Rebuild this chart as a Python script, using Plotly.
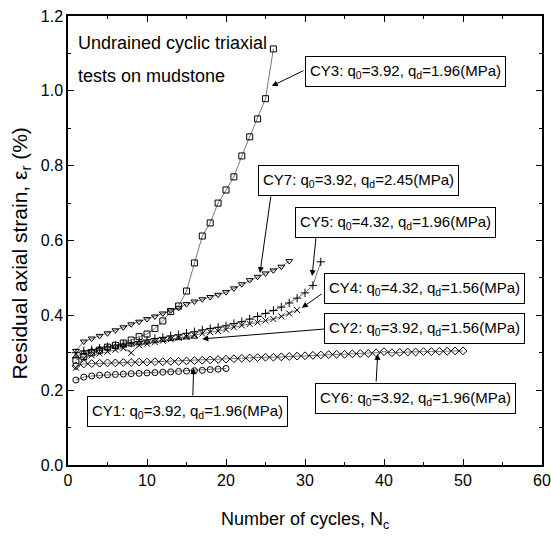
import plotly.graph_objects as go

FONT = "Liberation Sans, Arial, sans-serif"

# ---- data ----
cy1_eps = [0.227, 0.235, 0.238, 0.240, 0.241, 0.242, 0.243, 0.244, 0.245, 0.246,
           0.247, 0.248, 0.249, 0.250, 0.251, 0.252, 0.253, 0.255, 0.256, 0.258]
cy2_eps = [0.290, 0.300, 0.305, 0.310, 0.313, 0.316, 0.319, 0.322, 0.325, 0.328,
           0.331, 0.334, 0.337, 0.339, 0.341, 0.343]
cy3_eps = [0.280, 0.290, 0.300, 0.307, 0.315, 0.320, 0.326, 0.334, 0.343, 0.350,
           0.365, 0.385, 0.410, 0.425, 0.465, 0.540, 0.612, 0.647, 0.700, 0.735,
           0.770, 0.826, 0.877, 0.925, 0.979, 1.112]
cy4_eps = [0.260, 0.285, 0.293, 0.298, 0.303, 0.308, 0.312, 0.300, 0.320, 0.324,
           0.328, 0.332, 0.336, 0.340, 0.343, 0.347, 0.351, 0.355, 0.358, 0.362,
           0.368, 0.373, 0.377, 0.381, 0.386, 0.390, 0.397, 0.405, 0.414]
cy5_eps = [0.300, 0.305, 0.308, 0.312, 0.316, 0.320, 0.323, 0.326, 0.330, 0.334,
           0.338, 0.341, 0.345, 0.348, 0.352, 0.356, 0.361, 0.365, 0.368, 0.372,
           0.378, 0.383, 0.390, 0.397, 0.405, 0.413, 0.422, 0.433, 0.446, 0.460,
           0.480, 0.543]
cy6_eps = [0.265, 0.270, 0.271, 0.272, 0.273, 0.273, 0.274, 0.274, 0.275, 0.275,
           0.276, 0.276, 0.277, 0.277, 0.278, 0.279, 0.280, 0.281, 0.282, 0.283,
           0.284, 0.285, 0.286, 0.287, 0.288, 0.288, 0.289, 0.290, 0.291, 0.292,
           0.293, 0.294, 0.295, 0.296, 0.296, 0.297, 0.298, 0.298, 0.300, 0.303,
           0.300, 0.301, 0.302, 0.302, 0.303, 0.303, 0.304, 0.304, 0.305, 0.305]
cy7_eps = [0.305, 0.330, 0.338, 0.345, 0.352, 0.360, 0.368, 0.376, 0.383, 0.390,
           0.397, 0.405, 0.413, 0.420, 0.430, 0.437, 0.443, 0.449, 0.455, 0.462,
           0.472, 0.483, 0.494, 0.503, 0.512, 0.520, 0.530, 0.545]

x_ticks = [0, 10, 20, 30, 40, 50, 60]
y_ticks = [0.0, 0.2, 0.4, 0.6, 0.8, 1.0, 1.2]

series = [
    ("CY1", cy1_eps, "circle-open"),
    ("CY6", cy6_eps, "diamond-open"),
    ("CY2", cy2_eps, "triangle-up-open"),
    ("CY4", cy4_eps, "x-thin-open"),
    ("CY5", cy5_eps, "cross-thin-open"),
    ("CY7", cy7_eps, "triangle-down-open"),
    ("CY3", cy3_eps, "square-open"),
]

# labels: (text, box centre N, box centre eps, arrow tail N, tail eps, tip N, tip eps)
labels = [
    ("CY3: q<sub>0</sub>=3.92, q<sub>d</sub>=1.96(MPa)", 42.7, 1.051, 30.0, 1.056, 25.8, 1.013),
    ("CY7: q<sub>0</sub>=3.92, q<sub>d</sub>=2.45(MPa)", 36.8, 0.761, 25.7, 0.722, 24.3, 0.513),
    ("CY5: q<sub>0</sub>=4.32, q<sub>d</sub>=1.96(MPa)", 41.4, 0.648, 31.4, 0.610, 30.9, 0.505),
    ("CY4: q<sub>0</sub>=4.32, q<sub>d</sub>=1.56(MPa)", 45.1, 0.472, 32.3, 0.460, 29.6, 0.420),
    ("CY2: q<sub>0</sub>=3.92, q<sub>d</sub>=1.56(MPa)", 45.1, 0.364, 32.8, 0.364, 17.0, 0.337),
    ("CY6: q<sub>0</sub>=3.92, q<sub>d</sub>=1.96(MPa)", 44.0, 0.179, 39.0, 0.219, 39.2, 0.297),
    ("CY1: q<sub>0</sub>=3.92, q<sub>d</sub>=1.96(MPa)", 15.1, 0.142, 15.8, 0.182, 15.9, 0.259),
]

fig = go.Figure()
for name, eps, sym in series:
    fig.add_trace(go.Scatter(
        x=list(range(1, len(eps) + 1)), y=eps, mode="lines+markers", name=name,
        line=dict(color="#555555", width=0.8),
        marker=dict(symbol=sym, size=6, color="black", line=dict(color="black", width=1)),
        showlegend=False,
    ))

annotations = []
for text, bx, by, tx, ty, px, py in labels:
    annotations.append(dict(
        x=px, y=py, ax=tx, ay=ty, xref="x", yref="y", axref="x", ayref="y",
        text="", showarrow=True, arrowhead=2, arrowsize=1.2, arrowwidth=1,
        arrowcolor="black"))
    annotations.append(dict(
        x=bx, y=by, xref="x", yref="y", text=text, showarrow=False,
        font=dict(family=FONT, size=15, color="black"), height=21, valign="middle",
        bordercolor="black", borderwidth=1, borderpad=4, bgcolor="white",
        xanchor="center", yanchor="middle"))

annotations.append(dict(x=0.017, y=0.94, xref="paper", yref="paper",
                        text="Undrained cyclic triaxial", showarrow=False,
                        xanchor="left", yanchor="middle",
                        font=dict(family=FONT, size=18, color="black")))
annotations.append(dict(x=0.017, y=0.866, xref="paper", yref="paper",
                        text="tests on mudstone", showarrow=False,
                        xanchor="left", yanchor="middle",
                        font=dict(family=FONT, size=18, color="black")))
annotations.append(dict(x=-0.10, y=0.47, xref="paper", yref="paper",
                        text="Residual axial strain, ε<sub>r</sub> (%)", showarrow=False,
                        textangle=-90, xanchor="center", yanchor="middle",
                        font=dict(family=FONT, size=21, color="black")))
annotations.append(dict(x=0.5, y=-0.123, xref="paper", yref="paper",
                        text="Number of cycles, N<sub>c</sub>", showarrow=False,
                        xanchor="center", yanchor="middle",
                        font=dict(family=FONT, size=18, color="black")))

axis_common = dict(showgrid=False, zeroline=False, showline=True, linecolor="black",
                   linewidth=1.5, mirror="ticks", ticks="inside", ticklen=6,
                   tickwidth=1.2, tickcolor="black", automargin=False,
                   tickfont=dict(family=FONT, size=16, color="black"))

fig.update_layout(
    width=551, height=538,
    margin=dict(l=68, r=9, t=16, b=73),
    paper_bgcolor="white", plot_bgcolor="white",
    xaxis=dict(range=[0, 60], tickvals=x_ticks, ticktext=[str(v) for v in x_ticks],
               minor=dict(dtick=5, ticks="inside", ticklen=3, tickcolor="black"),
               **axis_common),
    yaxis=dict(range=[0, 1.2], tickvals=y_ticks, ticktext=[f"{v:.1f}" for v in y_ticks],
               minor=dict(dtick=0.1, ticks="inside", ticklen=3, tickcolor="black"),
               **axis_common),
    annotations=annotations,
)

fig.write_html("out.html")
